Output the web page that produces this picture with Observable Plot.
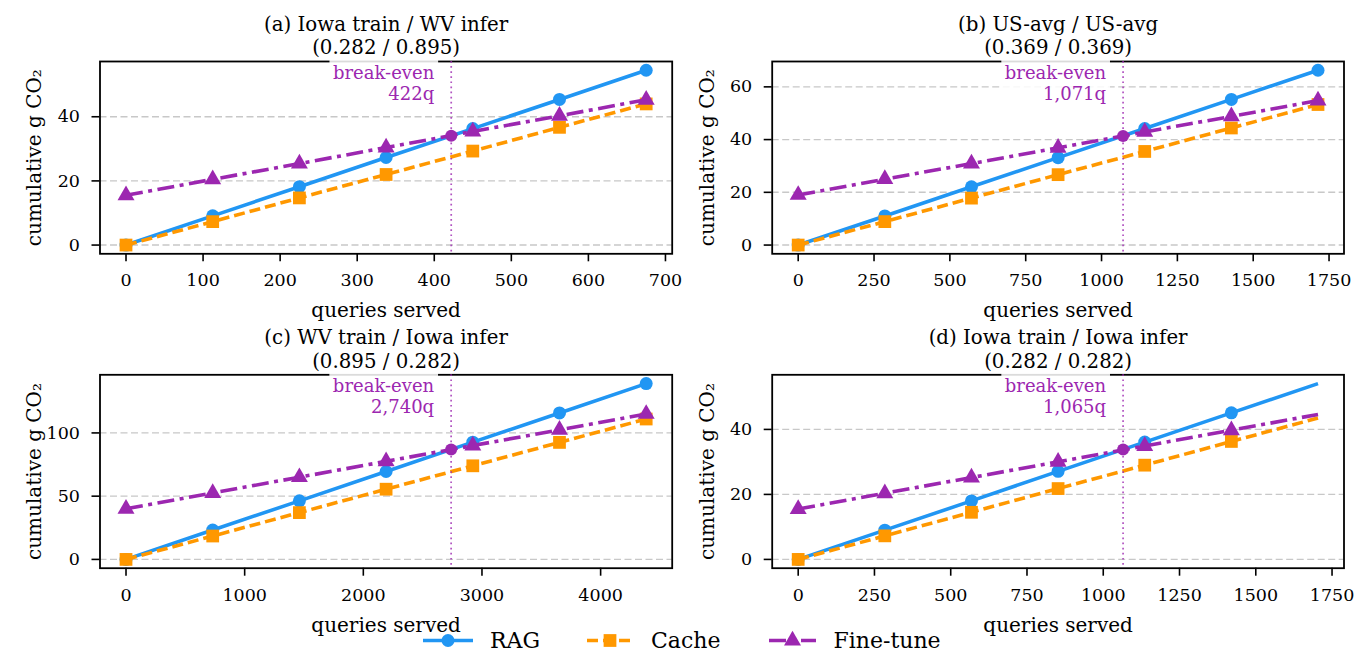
<!DOCTYPE html>
<html>
<head>
<meta charset="utf-8">
<script src="https://cdn.jsdelivr.net/npm/d3@7"></script>
<script src="https://cdn.jsdelivr.net/npm/@observablehq/plot@0.6"></script>
<style>
  body { margin: 0; background: #fff; }
  #root { position: relative; width: 1358px; height: 653px; overflow: hidden; font-family: "DejaVu Serif", serif; background: #fff; }
  #root > svg, #root > figure { position: absolute; margin: 0; }
</style>
</head>
<body>
<div id="root"></div>
<script>
// ---------- data ----------
const seriesNames = ["RAG", "Cache", "Fine-tune"];
const seriesColors = ["#2196f3", "#ff9800", "#9c27b0"];

const panelTitles = [
  "(a) Iowa train / WV infer",
  "(b) US-avg / US-avg",
  "(c) WV train / Iowa infer",
  "(d) Iowa train / Iowa infer"
];
const panelIntensities = ["(0.282 / 0.895)", "(0.369 / 0.369)", "(0.895 / 0.282)", "(0.282 / 0.282)"];

const queriesA = [0, 112.5, 225, 337.5, 450, 562.5, 675];
const ragA     = [0, 9.1, 18.2, 27.3, 36.3, 45.4, 54.5];
const cacheA   = [0, 7.3, 14.7, 22.0, 29.3, 36.7, 44.0];
const ftA      = [15.5, 20.5, 25.4, 30.4, 35.4, 40.3, 45.3];

const queriesB = [0, 285.6, 571.2, 856.8, 1142.4, 1428, 1713.6];
const ragB     = [0, 11.05, 22.1, 33.15, 44.2, 55.25, 66.3];
const cacheB   = [0, 8.9, 17.8, 26.7, 35.5, 44.4, 53.3];
const ftB      = [19.0, 25.0, 30.9, 36.9, 42.9, 48.8, 54.8];

const queriesC = [0, 730.7, 1461.3, 2192, 2922.7, 3653.3, 4384];
const ragC     = [0, 23.2, 46.3, 69.5, 92.7, 115.8, 139.0];
const cacheC   = [0, 18.5, 37.0, 55.5, 74.0, 92.5, 111.0];
const ftC      = [40.0, 52.5, 65.0, 77.5, 90.0, 102.4, 115.0];

const queriesD = [0, 284, 568, 852, 1136, 1420, 1704];
const ragD     = [0, 9.0, 18.0, 27.1, 36.1, 45.1, 54.1];
const cacheD   = [0, 7.25, 14.5, 21.8, 29.0, 36.3, 43.5];
const ftD      = [15.5, 20.35, 25.2, 30.05, 34.9, 39.75, 44.6];

const breakEvenQ = [422, 1071, 2740, 1065];
const breakEvenCO2 = [34.1, 41.4, 86.9, 33.8];
const markedPoints = [7, 7, 7, 6];

const xTicksA = [0, 100, 200, 300, 400, 500, 600, 700];
const xTicksB = [0, 250, 500, 750, 1000, 1250, 1500, 1750];
const xTicksC = [0, 1000, 2000, 3000, 4000];
const xTicksD = [0, 250, 500, 750, 1000, 1250, 1500, 1750];
const yTicksA = [0, 20, 40];
const yTicksB = [0, 20, 40, 60];
const yTicksC = [0, 50, 100];
const yTicksD = [0, 20, 40];

const xLabel = "queries served";
const yLabel = "cumulative g CO\u2082";

// ---------- layout / style ----------
const xDomains = [[-33.75, 708.75], [-85.7, 1799.3], [-219.2, 4603.2], [-85.2, 1789.2]];
const yDomains = [[-2.725, 57.225], [-3.315, 69.615], [-6.95, 145.95], [-2.705, 56.805]];
const boxes = [
  {left: 0,   top: 0,   width: 679, height: 318, mL: 99.5, mR: 7.3,  mT: 61,   mB: 64.7},
  {left: 679, top: 0,   width: 679, height: 318, mL: 92.7, mR: 14.5, mT: 61,   mB: 64.7},
  {left: 0,   top: 318, width: 679, height: 335, mL: 99.5, mR: 7.3,  mT: 56.3, mB: 85.3},
  {left: 679, top: 318, width: 679, height: 335, mL: 92.7, mR: 14.5, mT: 56.3, mB: 85.3}
];
const lineWidth = 3.6;
const seriesStyle = [
  {dash: null,           symbol: "circle",   r: 6.5},
  {dash: "11,5",         symbol: "square",   r: 7.2},
  {dash: "17,5.5,4,5.5", symbol: "triangle", r: 6.3}
];

const panels = [
  {q: queriesA, s: [ragA, cacheA, ftA], xt: xTicksA, yt: yTicksA},
  {q: queriesB, s: [ragB, cacheB, ftB], xt: xTicksB, yt: yTicksB},
  {q: queriesC, s: [ragC, cacheC, ftC], xt: xTicksC, yt: yTicksC},
  {q: queriesD, s: [ragD, cacheD, ftD], xt: xTicksD, yt: yTicksD}
];

const root = document.getElementById("root");
const fmtComma = d3.format(",");

panels.forEach((p, k) => {
  const b = boxes[k];
  const marks = [];
  marks.push(Plot.gridY(p.yt, {stroke: "#c8c8c8", strokeOpacity: 1, strokeWidth: 1.4, strokeDasharray: "7,3.5"}));
  p.s.forEach((vals, si) => {
    const rows = p.q.map((q, i) => ({q, v: vals[i]}));
    const st = seriesStyle[si];
    marks.push(Plot.line(rows, {x: "q", y: "v", stroke: seriesColors[si], strokeWidth: lineWidth, strokeDasharray: st.dash, strokeLinecap: "butt"}));
    marks.push(Plot.dot(rows.slice(0, markedPoints[k]), {x: "q", y: "v", symbol: st.symbol, r: st.r, fill: seriesColors[si]}));
  });
  marks.push(Plot.frame({stroke: "#000", strokeWidth: 1.8}));
  marks.push(Plot.ruleX([breakEvenQ[k]], {stroke: "#9c27b0", strokeOpacity: 0.8, strokeWidth: 1.7, strokeDasharray: "1.7,3.4"}));
  marks.push(Plot.dot([{q: breakEvenQ[k], v: breakEvenCO2[k]}], {x: "q", y: "v", r: 6, fill: "#9c27b0"}));
  marks.push(Plot.text([breakEvenQ[k]], {
    x: d => d, text: d => `break-even\n${fmtComma(d)}q`, frameAnchor: "top",
    textAnchor: "end", dx: -17, dy: 21, fontSize: 18, lineHeight: 1.17, lineAnchor: "middle",
    fill: "#9c27b0", ariaLabel: () => "breakeven-label"
  }));
  marks.push(Plot.axisX(p.xt, {tickSize: 8, tickPadding: 12, fontSize: 17.5, strokeWidth: 1.6, label: null, tickFormat: d => String(d)}));
  marks.push(Plot.axisY(p.yt, {tickSize: 8, tickPadding: 12, fontSize: 17.5, strokeWidth: 1.6, label: null, tickFormat: d => String(d)}));
  marks.push(Plot.text([`${panelTitles[k]}\n${panelIntensities[k]}`], {frameAnchor: "top", dy: -26.5, fontSize: 19.8, lineHeight: 1.19, lineAnchor: "middle", fill: "#000"}));
  marks.push(Plot.text([xLabel], {frameAnchor: "bottom", dy: 57, fontSize: 20, lineAnchor: "middle", fill: "#000"}));
  marks.push(Plot.text([yLabel], {frameAnchor: "left", dx: -65, rotate: -90, fontSize: 20, lineAnchor: "middle", textAnchor: "middle", fill: "#000"}));

  const svg = Plot.plot({
    width: b.width, height: b.height,
    marginLeft: b.mL, marginRight: b.mR, marginTop: b.mT, marginBottom: b.mB,
    x: {type: "linear", domain: xDomains[k]},
    y: {type: "linear", domain: yDomains[k]},
    style: {fontFamily: "'DejaVu Serif', serif", fontSize: "17.5px", color: "#000", background: "transparent", overflow: "visible"},
    marks
  });
  svg.style.left = b.left + "px";
  svg.style.top = b.top + "px";
  root.appendChild(svg);

  // translucent white box behind the break-even label (like a matplotlib bbox)
  const t = svg.querySelector('text[aria-label="breakeven-label"]');
  if (t) {
    const g = t.closest("g");
    const sr = svg.getBoundingClientRect();
    const tr = t.getBoundingClientRect();
    const x0 = tr.left - sr.left - 3.5, x1 = tr.right - sr.left + 3.5;
    const y0 = Math.min(tr.top - sr.top - 3, b.mT - 3), y1 = tr.bottom - sr.top + 2;
    const rect = document.createElementNS("http://www.w3.org/2000/svg", "rect");
    rect.setAttribute("x", x0);
    rect.setAttribute("y", y0);
    rect.setAttribute("width", x1 - x0);
    rect.setAttribute("height", y1 - y0);
    rect.setAttribute("fill", "#fff");
    rect.setAttribute("fill-opacity", "0.86");
    rect.setAttribute("stroke", "none");
    g.parentNode.insertBefore(rect, g);
  }
});

// ---------- legend ----------
const legendPos = [
  {x1: 423, x2: 473, tx: 490},
  {x1: 587, x2: 633, tx: 651},
  {x1: 769, x2: 816, tx: 833.5}
];
const lg = d3.create("svg").attr("width", 1358).attr("height", 33)
  .style("left", "0px").style("top", "620px").style("position", "absolute").style("overflow", "visible");
const ly = 20.5;
seriesNames.forEach((name, i) => {
  const pos = legendPos[i];
  const st = seriesStyle[i];
  lg.append("line").attr("x1", pos.x1).attr("x2", pos.x2).attr("y1", ly).attr("y2", ly)
    .attr("stroke", seriesColors[i]).attr("stroke-width", lineWidth)
    .attr("stroke-dasharray", st.dash);
  const sym = {circle: d3.symbolCircle, square: d3.symbolSquare, triangle: d3.symbolTriangle}[st.symbol];
  lg.append("path").attr("d", d3.symbol(sym, st.r * st.r * Math.PI)())
    .attr("transform", `translate(${(pos.x1 + pos.x2) / 2},${ly})`).attr("fill", seriesColors[i]);
  lg.append("text").attr("x", pos.tx).attr("y", ly).attr("dy", "0.36em")
    .attr("font-family", "'DejaVu Serif', serif").attr("font-size", 22).attr("fill", "#000").text(name);
});
root.appendChild(lg.node());
</script>
</body>
</html>
